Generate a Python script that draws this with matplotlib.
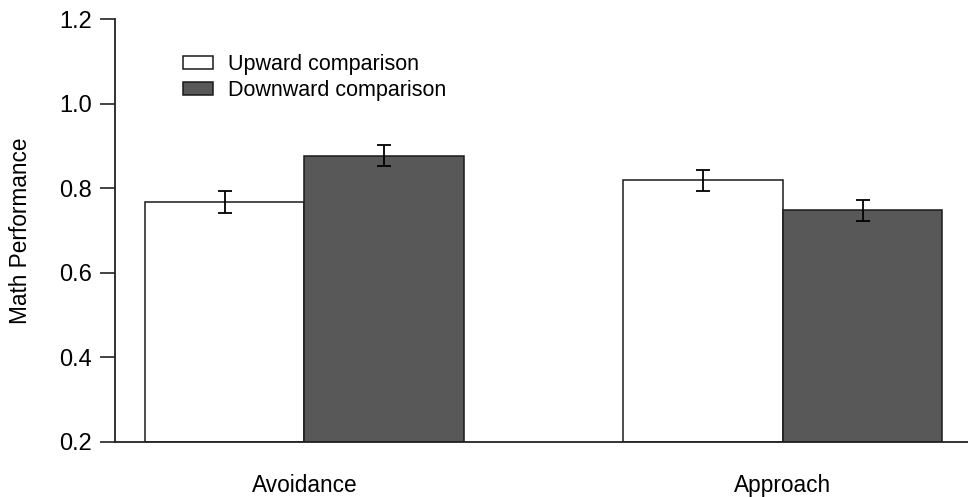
import numpy as np
import matplotlib.pyplot as plt

plt.rcParams['font.family'] = ['Liberation Sans', 'DejaVu Sans']

groups = ["Avoidance", "Approach"]
series = ["Upward comparison", "Downward comparison"]
upward = [0.768, 0.818]
downward = [0.877, 0.747]
upward_err = [0.026, 0.025]
downward_err = [0.025, 0.025]

fig = plt.figure(figsize=(9.68, 4.97), dpi=100)
ax = fig.add_axes([115/968, 1 - 441.7/497, 1 - 115/968, (441.7 - 19)/497])

# R barplot layout: width 1, one bar of space between groups
x_up = np.array([0.0, 3.0])
x_down = x_up + 1.0

ax.bar(x_up, np.array(upward) - 0.2, bottom=0.2, width=1.0, align='edge',
       color='white', edgecolor='#1a1a1a', linewidth=1.1, label=series[0])
ax.bar(x_down, np.array(downward) - 0.2, bottom=0.2, width=1.0, align='edge',
       color='#585858', edgecolor='#1a1a1a', linewidth=1.1, label=series[1])

ax.errorbar(x_up + 0.5, upward, yerr=upward_err, fmt='none', ecolor='black',
            elinewidth=1.3, capsize=4.8, capthick=1.3)
ax.errorbar(x_down + 0.5, downward, yerr=downward_err, fmt='none', ecolor='black',
            elinewidth=1.3, capsize=4.8, capthick=1.3)

ax.set_xlim(-0.188, 5.16)
ax.set_ylim(0.2, 1.2)
ax.set_yticks([0.2, 0.4, 0.6, 0.8, 1.0, 1.2])
ax.set_yticklabels(["0.2", "0.4", "0.6", "0.8", "1.0", "1.2"])
ax.tick_params(axis='y', length=10.5, width=1.2, pad=6, labelsize=17, color='#222222')
ax.set_xticks([])
for lbl, xc in zip(groups, [1.0, 4.0]):
    ax.text(xc, -0.103, lbl, transform=ax.get_xaxis_transform(), ha='center',
            va='center', fontsize=16.3)

ax.spines['top'].set_visible(False)
ax.spines['right'].set_visible(False)
for s in ['left', 'bottom']:
    ax.spines[s].set_linewidth(1.3)
    ax.spines[s].set_color('#222222')

ax.set_ylabel("Math Performance", fontsize=16.3)
ax.yaxis.set_label_coords(-0.097, 0.5)

ax.legend(loc='upper left', bbox_to_anchor=(183/968, 1 - 54/497),
          bbox_transform=fig.transFigure, frameon=False, fontsize=15.5,
          handlelength=1.4, handleheight=0.55, handletextpad=0.7,
          labelspacing=0.22, borderpad=0, borderaxespad=0)

fig.savefig("out.png", dpi=100)
